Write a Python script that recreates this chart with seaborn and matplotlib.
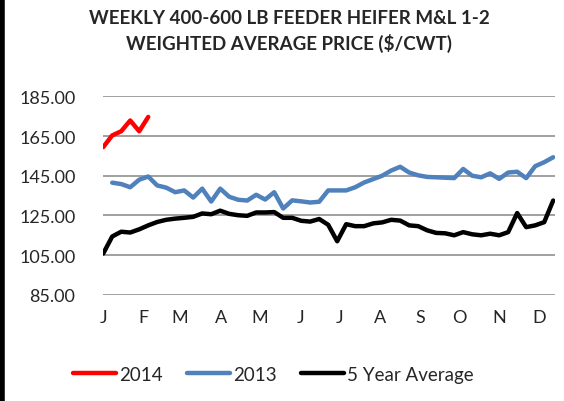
import numpy as np
import pandas as pd
import matplotlib
matplotlib.use('Agg')
import matplotlib.pyplot as plt
import seaborn as sns

# weekly prices, $/cwt
prices_2014 = [159.4, 165.3, 167.4, 172.8, 167.4, 174.6]
prices_2013 = [np.nan, 141.5, 140.8, 139.2, 143.0, 144.6, 140.1, 139.0, 136.7, 137.6,
               134.0, 138.5, 132.0, 138.5, 134.4, 132.9, 132.5, 135.4, 133.0, 136.7,
               128.5, 132.6, 132.1, 131.5, 131.9, 137.6, 137.6, 137.6, 139.2, 141.6,
               143.3, 145.0, 147.6, 149.5, 146.6, 145.2, 144.4, 144.2, 144.0, 143.8,
               148.4, 145.0, 144.2, 146.2, 143.4, 146.6, 147.0, 143.8, 149.8, 151.8,
               154.3]
five_yr_avg = [105.8, 114.4, 116.8, 116.4, 118.0, 120.0, 121.7, 122.8, 123.4, 123.8,
               124.3, 126.0, 125.6, 127.4, 125.8, 125.1, 124.8, 126.5, 126.5, 126.7,
               123.8, 123.8, 122.3, 121.9, 123.2, 120.3, 112.0, 120.6, 119.6, 119.6,
               121.0, 121.5, 122.8, 122.4, 120.0, 119.6, 117.5, 116.2, 116.0, 115.0,
               116.6, 115.5, 115.0, 115.8, 115.0, 116.6, 126.2, 119.1, 120.0, 121.6,
               132.5]
month_labels = ['J', 'F', 'M', 'A', 'M', 'J', 'J', 'A', 'S', 'O', 'N', 'D']
month_start_day = [0, 31, 59, 90, 120, 151, 181, 212, 243, 273, 304, 334]
y_ticks = [85, 105, 125, 145, 165, 185]

frames = []
for name, vals in [('2014', prices_2014), ('2013', prices_2013), ('5 Year Average', five_yr_avg)]:
    frames.append(pd.DataFrame({'week': np.arange(len(vals)), 'price': vals, 'series': name}))
df = pd.concat(frames).dropna()

sns.set_style('white')
plt.rcParams['font.family'] = ['Lato', 'DejaVu Sans']

fig = plt.figure(figsize=(5.64, 4.02), dpi=100)
ax = fig.add_axes([0.183, 0.264, 0.801, 0.494])

palette = {'2014': '#FF0000', '2013': '#4F81BD', '5 Year Average': '#000000'}
sns.lineplot(data=df, x='week', y='price', hue='series', palette=palette,
             linewidth=3.2, ax=ax, legend=True)

ax.set_xlim(0, 50.2)
ax.set_ylim(85, 185)
ax.set_yticks(y_ticks)
ax.set_yticklabels([f'{v:.2f}' for v in y_ticks], fontsize=13)
ax.set_xticks([d / 6.9 for d in month_start_day])
ax.set_xticklabels(month_labels, fontsize=13)
ax.tick_params(axis='x', length=0, pad=10)
ax.tick_params(axis='y', length=0, pad=20)
ax.grid(axis='y', color='#868686', linewidth=1.1)
ax.set_axisbelow(True)
for s in ax.spines.values():
    s.set_visible(False)
ax.set_xlabel('')
ax.set_ylabel('')

fig.suptitle('WEEKLY 400-600 LB FEEDER HEIFER M&L 1-2\nWEIGHTED AVERAGE PRICE ($/CWT)',
             x=0.513, y=0.975, fontsize=13.5, fontweight='bold', linespacing=1.45)

ax.legend(loc='center', ncol=3, frameon=False, fontsize=13.5, handlelength=2.3,
          handletextpad=0.15, columnspacing=1.3)
leg = ax.get_legend()
leg.set_bbox_to_anchor((0.485, 0.067), transform=fig.transFigure)
for line in leg.get_lines():
    line.set_linewidth(3.2)

# black edge on the left of the original image
fig.add_artist(plt.Line2D([0.003, 0.003], [0, 1], color='black', linewidth=4,
                          transform=fig.transFigure))

plt.savefig('out.png', dpi=100)
